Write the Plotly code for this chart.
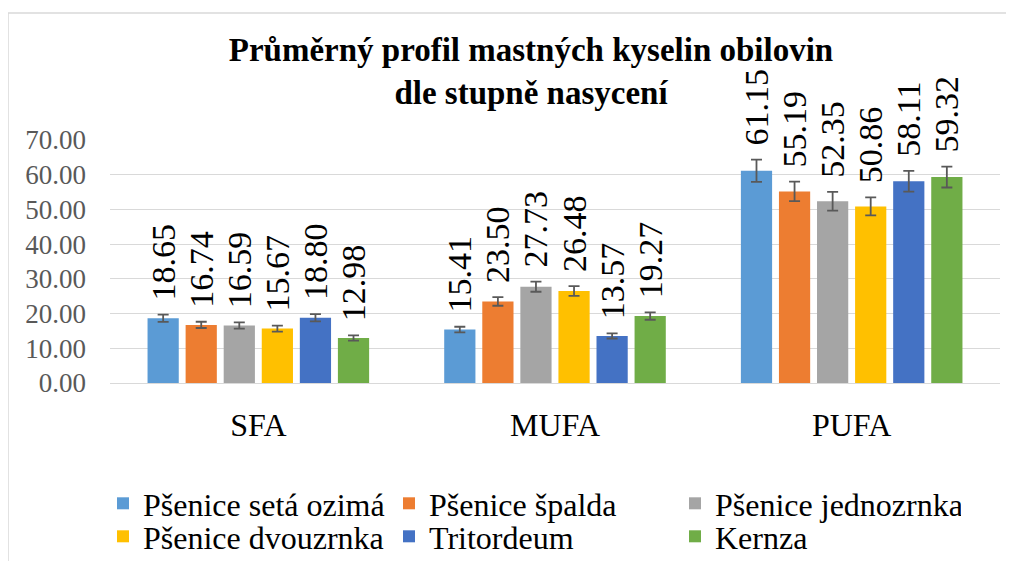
import plotly.graph_objects as go

# data
categories = ["SFA", "MUFA", "PUFA"]
series_names = ["Pšenice setá ozimá", "Pšenice špalda", "Pšenice jednozrnka",
                "Pšenice dvouzrnka", "Tritordeum", "Kernza"]
colors = ["#5B9BD5", "#ED7D31", "#A5A5A5", "#FFC000", "#4472C4", "#70AD47"]

psenice_seta = [18.65, 15.41, 61.15]
psenice_spalda = [16.74, 23.50, 55.19]
psenice_jednozrnka = [16.59, 27.73, 52.35]
psenice_dvouzrnka = [15.67, 26.48, 50.86]
tritordeum = [18.80, 13.57, 58.11]
kernza = [12.98, 19.27, 59.32]

err_seta = [1.05, 0.8, 3.2]
err_spalda = [0.9, 1.25, 2.8]
err_jednozrnka = [0.9, 1.45, 2.7]
err_dvouzrnka = [0.85, 1.4, 2.6]
err_tritordeum = [1.05, 0.75, 3.0]
err_kernza = [0.75, 1.05, 3.0]

values = [psenice_seta, psenice_spalda, psenice_jednozrnka,
          psenice_dvouzrnka, tritordeum, kernza]
errors = [err_seta, err_spalda, err_jednozrnka,
          err_dvouzrnka, err_tritordeum, err_kernza]

FONT = "Liberation Serif"
LABEL_GAP = 3.2  # empty room between error bar and value label

fig = go.Figure()
for i, (name, col, vals, err) in enumerate(zip(series_names, colors, values, errors)):
    grp = f"g{i}"
    fig.add_trace(go.Bar(
        x=categories, y=vals, name=name, offsetgroup=grp,
        legend="legend" if i < 3 else "legend2",
        marker=dict(color=col, line=dict(width=0)),
        error_y=dict(type="data", array=err, color="#595959",
                     thickness=1.8, width=5.5),
    ))
    # transparent helper bar sitting on top of the error bar, carrying the label
    fig.add_trace(go.Bar(
        x=categories, y=[LABEL_GAP] * len(vals),
        base=[v + e for v, e in zip(vals, err)],
        offsetgroup=grp, showlegend=False, hoverinfo="skip",
        marker=dict(color="rgba(0,0,0,0)", line=dict(width=0)),
        text=[f"{v:.2f}" for v in vals],
        textposition="outside", textangle=-90, constraintext="none",
        textfont=dict(family=FONT, size=34, color="#000000"),
        cliponaxis=False,
    ))

W, H = 1014, 561
ml, mr, mt, mb = 102, 22, 132, 186
pw, ph = W - ml - mr, H - mt - mb

legend_common = dict(orientation="h", xref="container", x=95 / W, xanchor="left",
                     yref="container", yanchor="top",
                     entrywidth=241, entrywidthmode="pixels",
                     font=dict(family=FONT, size=32, color="#000000"),
                     itemwidth=30, bgcolor="rgba(0,0,0,0)")

fig.update_layout(
    width=W, height=H,
    margin=dict(l=ml, r=mr, t=mt, b=mb, autoexpand=False),
    paper_bgcolor="white", plot_bgcolor="white",
    barmode="group", bargap=0.23, bargroupgap=0.18,
    font=dict(family=FONT, color="#000000"),
    title=dict(
        text="<b>Průměrný profil mastných kyselin obilovin<br>dle stupně nasycení</b>",
        x=523 / W, xanchor="center", xref="container",
        y=1 - 53 / H, yanchor="top", yref="container",
        font=dict(family=FONT, size=33, color="#000000"),
    ),
    yaxis=dict(range=[0, 70], dtick=10, tickformat=".2f",
               showgrid=True, gridcolor="#D9D9D9", gridwidth=1.3,
               zeroline=True, zerolinecolor="#D9D9D9", zerolinewidth=1.3,
               showline=False, ticks="", ticklabelstandoff=23,
               tickfont=dict(family=FONT, size=27, color="#595959")),
    xaxis=dict(showline=False, ticks="", ticklabelstandoff=20,
               tickfont=dict(family=FONT, size=32, color="#000000")),
    legend=dict(legend_common, y=1 - 468 / H),
    legend2=dict(legend_common, y=1 - 501 / H),
    showlegend=True,
)

# outer chart border
fig.add_shape(type="rect", xref="paper", yref="paper",
              x0=(0 - ml) / pw, x1=(1004 - ml) / pw,
              y0=-(H + 5 - (H - mb)) / ph, y1=(H - mb - 5) / ph,
              line=dict(color="#D9D9D9", width=1.5), fillcolor="rgba(0,0,0,0)",
              layer="below")

fig.write_html("out.html")
